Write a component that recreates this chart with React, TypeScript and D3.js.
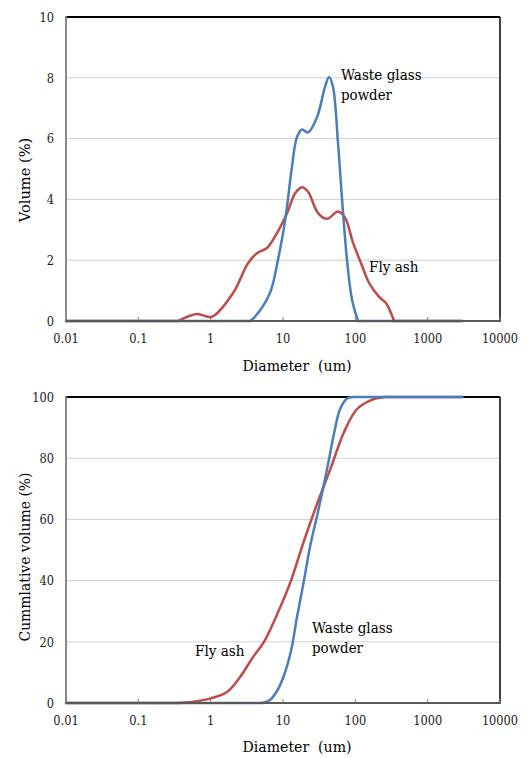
import React, { useRef, useEffect } from 'react';
import * as d3 from 'd3';

// particle size distribution (volume %)
const glassDiam = [0.01, 3.5, 4.1, 6.6, 8.5, 10.7, 13.3, 15.6, 18.3, 22.2, 29.5, 38.1, 43.3, 49.1, 57.6, 65.5, 76.8, 90, 109, 3000];
const glassVol = [0, 0, 0.14, 0.92, 2.0, 3.3, 5.07, 6.05, 6.3, 6.2, 6.7, 7.7, 8.03, 7.7, 5.86, 4.0, 2.0, 0.7, 0, 0];

const ashDiam = [0.01, 0.353, 0.647, 1.04, 2.04, 3.28, 4.37, 6.0, 8.3, 11.4, 14.7, 18.3, 22.2, 30.5, 40.6, 57.6, 72, 93, 120, 155, 212, 265, 311, 343, 3000];
const ashVol = [0, 0, 0.23, 0.14, 0.92, 1.9, 2.23, 2.4, 2.9, 3.55, 4.2, 4.4, 4.25, 3.55, 3.36, 3.6, 3.4, 2.57, 1.9, 1.25, 0.8, 0.59, 0.26, 0, 0];

// cumulative volume %
const glassCumDiam = [0.01, 5.1, 6.6, 8.3, 10.3, 12.9, 15.6, 19.5, 23.6, 29.5, 35.7, 41.9, 50.7, 61.4, 76.8, 93, 3000];
const glassCum = [0, 0, 1, 4, 9, 17, 28, 40, 51, 61, 70, 78, 88, 96, 99.5, 100, 100];

const ashCumDiam = [0.01, 0.353, 0.647, 1.04, 1.68, 2.55, 3.85, 5.46, 8.3, 12.9, 19.5, 29.5, 46.1, 69.6, 105, 165, 250, 3000];
const ashCum = [0, 0, 0.6, 1.6, 3.6, 8.5, 15, 20, 29, 40, 53, 65, 77, 88.5, 96, 99, 100, 100];

const xTicks = [0.01, 0.1, 1, 10, 100, 1000, 10000];
const volTicks = [0, 2, 4, 6, 8, 10];
const cumTicks = [0, 20, 40, 60, 80, 100];

const BLUE = '#4a7ebb';
const RED = '#be4b48';
const FONT = "'DejaVu Serif', serif";

// Times-like advance widths (em) so the wider DejaVu Serif can be squeezed to the original width
const TW = {
  '0': .5, '1': .5, '2': .5, '4': .5, '6': .5, '8': .5, '.': .25, ' ': .25, '(': .333, ')': .333, '%': .833,
  V: .722, C: .667, D: .722, W: .944, F: .556,
  a: .444, c: .444, d: .5, e: .444, g: .5, h: .5, i: .278, l: .278, m: .778, o: .5, p: .5, r: .333,
  s: .389, t: .278, u: .5, v: .5, w: .722, y: .5,
};
const timesWidth = (str, size) => [...String(str)].reduce((acc, c) => acc + (TW[c] ?? .5), 0) * size;

const fitText = (sel, size) => sel
  .attr('textLength', d => timesWidth(d, size))
  .attr('lengthAdjust', 'spacingAndGlyphs');

const drawPanel = (svg, opts) => {
  const { top, bottom, yMax, yTicks, yTitle, yTitleY, series, notes, xTitleY } = opts;
  const left = 66;
  const right = 500;

  const x = d3.scaleLog().domain([0.01, 10000]).range([left, right]);
  const y = d3.scaleLinear().domain([0, yMax]).range([bottom, top]);

  const g = svg.append('g');

  // gridlines
  g.selectAll('.grid')
    .data(yTicks.filter(t => t > 0 && t < yMax))
    .enter().append('line')
    .attr('x1', left).attr('x2', right)
    .attr('y1', d => y(d)).attr('y2', d => y(d))
    .attr('stroke', '#d0d0d0')
    .attr('stroke-width', 1);

  // frame
  g.append('line').attr('x1', left).attr('x2', right).attr('y1', top).attr('y2', top)
    .attr('stroke', '#000').attr('stroke-width', 2);
  g.append('line').attr('x1', right).attr('x2', right).attr('y1', top).attr('y2', bottom)
    .attr('stroke', '#111').attr('stroke-width', 1.6);

  // x ticks pointing inward
  g.selectAll('.xtick')
    .data(xTicks)
    .enter().append('line')
    .attr('x1', d => x(d)).attr('x2', d => x(d))
    .attr('y1', bottom).attr('y2', bottom - 4)
    .attr('stroke', '#808080')
    .attr('stroke-width', 1);

  const smooth = d3.line()
    .x(d => x(d[0]))
    .y(d => y(d[1]))
    .curve(d3.curveCatmullRom.alpha(0.5));
  const straight = d3.line()
    .x(d => x(d[0]))
    .y(d => y(d[1]));

  series.forEach(s => {
    const pts = s.xs.map((v, i) => [v, s.ys[i]]);
    // flat runs at the ends are straight, the rest is smoothed
    let a = 0;
    while (a < pts.length - 1 && pts[a + 1][1] === pts[0][1]) a++;
    let b = pts.length - 1;
    while (b > 0 && pts[b - 1][1] === pts[pts.length - 1][1]) b--;
    [[straight, pts.slice(0, a + 1)], [smooth, pts.slice(a, b + 1)], [straight, pts.slice(b)]].forEach(([gen, seg]) => {
      if (seg.length < 2) return;
      g.append('path')
        .datum(seg)
        .attr('fill', 'none')
        .attr('stroke', s.color)
        .attr('stroke-width', 2.5)
        .attr('stroke-linejoin', 'round')
        .attr('stroke-linecap', 'round')
        .attr('d', gen);
    });
  });

  // axes
  g.append('line').attr('x1', left).attr('x2', left).attr('y1', top - 1).attr('y2', bottom + 1)
    .attr('stroke', '#7f7f7f').attr('stroke-width', 1.8);
  g.append('line').attr('x1', left).attr('x2', right + 1).attr('y1', bottom).attr('y2', bottom)
    .attr('stroke', '#595959').attr('stroke-width', 1.8);

  // tick labels
  g.selectAll('.ylab')
    .data(yTicks)
    .enter().append('text')
    .attr('x', left - 12)
    .attr('y', d => y(d))
    .attr('dy', '0.36em')
    .attr('text-anchor', 'end')
    .style('font-family', FONT)
    .style('font-size', '13.5px')
    .attr('fill', '#1a1a1a')
    .text(d => d)
    .call(fitText, 14.5);

  g.selectAll('.xlab')
    .data(xTicks)
    .enter().append('text')
    .attr('x', d => x(d))
    .attr('y', bottom + 22)
    .attr('text-anchor', 'middle')
    .style('font-family', FONT)
    .style('font-size', '13.5px')
    .attr('fill', '#1a1a1a')
    .text(d => d)
    .call(fitText, 14.5);

  // axis titles
  g.append('text')
    .datum('Diameter  (um)')
    .attr('x', 297)
    .attr('y', xTitleY)
    .attr('text-anchor', 'middle')
    .style('font-family', FONT)
    .style('font-size', '15.5px')
    .style('white-space', 'pre')
    .attr('fill', '#000')
    .text(d => d)
    .attr('textLength', 109)
    .attr('lengthAdjust', 'spacingAndGlyphs');

  g.append('text')
    .datum(yTitle)
    .attr('transform', `translate(30,${yTitleY}) rotate(-90)`)
    .attr('text-anchor', 'middle')
    .style('font-family', FONT)
    .style('font-size', '15.5px')
    .attr('fill', '#000')
    .text(d => d)
    .call(fitText, 17);

  notes.forEach(n => {
    g.append('text')
      .datum(n.text)
      .attr('x', n.x)
      .attr('y', n.y)
      .style('font-family', FONT)
      .style('font-size', '15.5px')
      .attr('fill', '#000')
      .text(d => d)
      .call(fitText, 17);
  });
};

const App = () => {
  const svgRef = useRef();

  useEffect(() => {
    const svg = d3.select(svgRef.current);
    svg.selectAll('*').remove();

    drawPanel(svg, {
      top: 17,
      bottom: 321,
      yMax: 10,
      yTicks: volTicks,
      yTitle: 'Volume (%)',
      yTitleY: 180,
      xTitleY: 371,
      series: [
        { xs: ashDiam, ys: ashVol, color: RED },
        { xs: glassDiam, ys: glassVol, color: BLUE },
      ],
      notes: [
        { x: 341, y: 80, text: 'Waste glass' },
        { x: 341, y: 100, text: 'powder' },
        { x: 369, y: 272, text: 'Fly ash' },
      ],
    });

    drawPanel(svg, {
      top: 397,
      bottom: 703,
      yMax: 100,
      yTicks: cumTicks,
      yTitle: 'Cummlative volume (%)',
      yTitleY: 557,
      xTitleY: 752,
      series: [
        { xs: ashCumDiam, ys: ashCum, color: RED },
        { xs: glassCumDiam, ys: glassCum, color: BLUE },
      ],
      notes: [
        { x: 195, y: 656, text: 'Fly ash' },
        { x: 312, y: 633, text: 'Waste glass' },
        { x: 312, y: 653, text: 'powder' },
      ],
    });
  }, []);

  return (
    <svg
      ref={svgRef}
      width="528"
      height="758"
      style={{ position: 'absolute', left: 0, top: 0, background: '#fff' }}
    ></svg>
  );
};

export default App;
